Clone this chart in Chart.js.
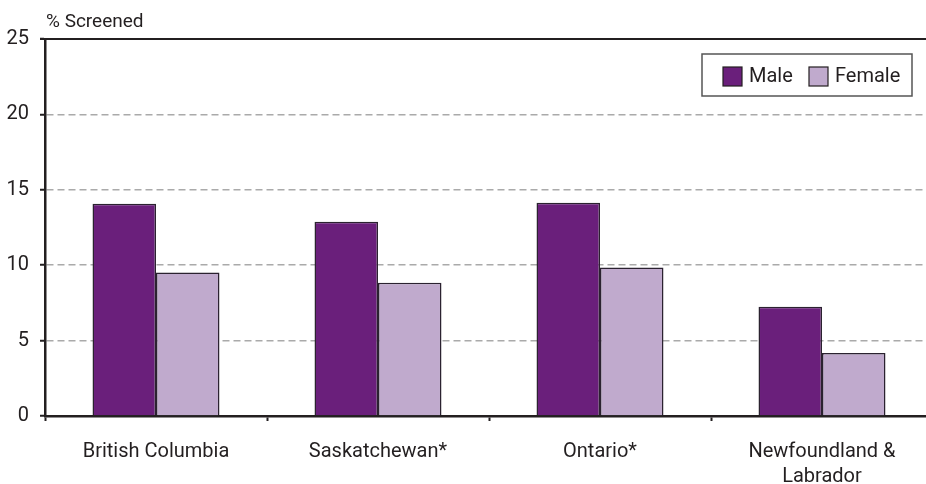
<!DOCTYPE html>
<html>
<head>
<meta charset="utf-8">
<script src="https://cdn.jsdelivr.net/npm/chart.js@4.4.1/dist/chart.umd.min.js"></script>
<style>
  html, body { margin: 0; padding: 0; background: #fff; overflow: hidden; width: 926px; height: 484px; }
  #wrap { position: absolute; left: 0; top: 0; width: 940px; height: 484px; }
</style>
</head>
<body>
<div id="wrap"><canvas id="c" width="940" height="484"></canvas></div>
<script>
const categories = ['British Columbia', 'Saskatchewan*', 'Ontario*', ['Newfoundland &', 'Labrador']];
const maleValues = [14.08, 12.88, 14.14, 7.25];
const femaleValues = [9.51, 8.84, 9.84, 4.17];
const seriesNames = ['Male', 'Female'];
const yTicks = [0, 5, 10, 15, 20, 25];
const yTitle = '% Screened';

const FONT = "Roboto, 'Liberation Sans', sans-serif";
const DARK = '#231f20';

const extras = {
  id: 'extras',
  afterDraw(chart) {
    const ctx = chart.ctx;
    const area = chart.chartArea;
    const y = chart.scales.y;
    ctx.save();
    // solid top line at max value
    ctx.strokeStyle = DARK;
    ctx.lineWidth = 2;
    ctx.beginPath();
    const ty = y.getPixelForValue(25);
    ctx.moveTo(area.left - 5, ty);
    ctx.lineTo(area.right, ty);
    ctx.stroke();
    // axis title
    ctx.fillStyle = DARK;
    ctx.font = '19px ' + FONT;
    ctx.textAlign = 'left';
    ctx.textBaseline = 'alphabetic';
    ctx.fillText(yTitle, 46, 27);
    // legend box
    const ds = chart.data.datasets;
    ctx.font = '20px ' + FONT;
    const bx = 702, by = 54, bw = 210, bh = 42;
    const sw = 19;
    const itemX = [723, 809];
    ctx.strokeStyle = '#555';
    ctx.lineWidth = 1.5;
    ctx.fillStyle = '#fff';
    ctx.fillRect(bx, by, bw, bh);
    ctx.strokeRect(bx, by, bw, bh);
    ds.forEach((d, i) => {
      const x = itemX[i];
      ctx.fillStyle = d.backgroundColor;
      ctx.fillRect(x, by + 13, sw, sw);
      ctx.strokeStyle = DARK;
      ctx.lineWidth = 1.2;
      ctx.strokeRect(x, by + 13, sw, sw);
      ctx.fillStyle = DARK;
      ctx.textBaseline = 'middle';
      ctx.fillText(d.label, x + sw + 7, by + 23);
    });
    ctx.restore();
  }
};

new Chart(document.getElementById('c'), {
  type: 'bar',
  data: {
    labels: categories,
    datasets: [
      { label: seriesNames[0], data: maleValues, backgroundColor: '#6a1f7b', borderColor: '#2b2230', borderWidth: 1.5, borderSkipped: 'bottom' },
      { label: seriesNames[1], data: femaleValues, backgroundColor: '#c0aacd', borderColor: '#2b2230', borderWidth: 1.5, borderSkipped: 'bottom' }
    ]
  },
  options: {
    responsive: false,
    animation: false,
    devicePixelRatio: 1,
    layout: { padding: { top: 39, right: 7, left: 0, bottom: 0 } },
    plugins: { legend: { display: false }, tooltip: { enabled: false }, title: { display: false } },
    datasets: { bar: { categoryPercentage: 0.572, barPercentage: 1.0 } },
    scales: {
      x: {
        offset: true,
        grid: { offset: true, drawOnChartArea: false, drawTicks: true, tickLength: 5, tickColor: DARK, tickWidth: 2 },
        border: { display: true, color: DARK, width: 2.5 },
        ticks: { color: DARK, font: { family: FONT, size: 20, lineHeight: 1.25 }, padding: 18, maxRotation: 0, autoSkip: false },
        afterFit: s => { s.height = 68; }
      },
      y: {
        min: 0, max: 25,
        afterBuildTicks: s => { s.ticks = yTicks.map(v => ({ value: v })); },
        grid: { color: '#aaaaaa', lineWidth: 1.5, drawTicks: true, tickLength: 5, tickColor: DARK, tickWidth: 2 },
        border: { display: true, color: DARK, width: 2.5, dash: [7, 4] },
        ticks: { color: DARK, font: { family: FONT, size: 20 }, padding: 11 },
        afterFit: s => { s.width = 45; }
      }
    }
  },
  plugins: [extras]
});
</script>
</body>
</html>
